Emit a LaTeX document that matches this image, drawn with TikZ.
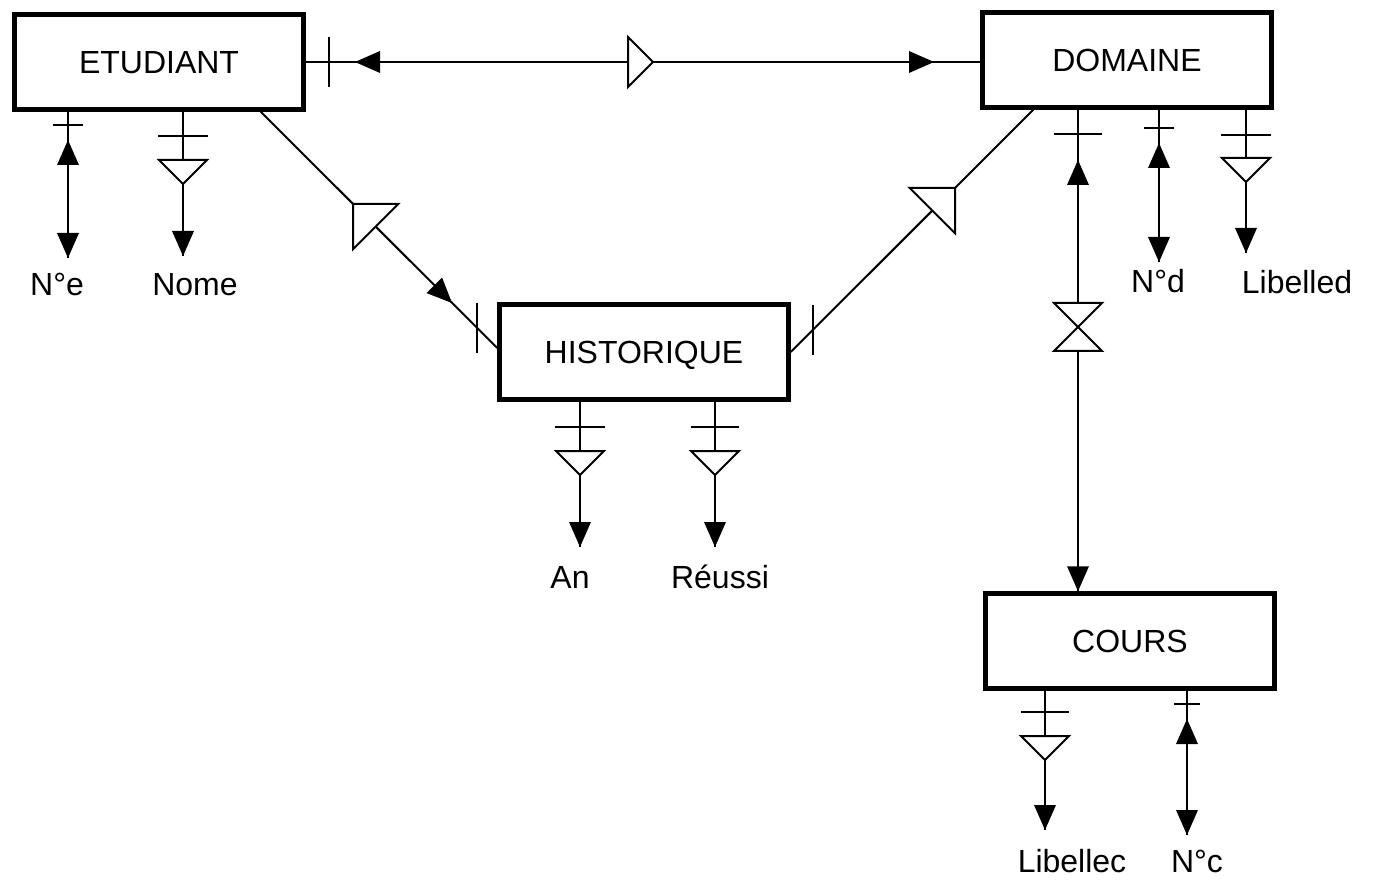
\documentclass[tikz,border=0pt]{standalone}
\usepackage{fontspec}
\setmainfont{Liberation Sans}
\usetikzlibrary{calc}
\begin{document}
\begin{tikzpicture}[x=1pt,y=-1pt,
  entity/.style={draw, line width=4.5pt, minimum width=289pt, minimum height=95pt, inner sep=0pt,
    text height=23pt, text depth=0pt, font=\fontsize{32}{36}\selectfont},
  attr/.style={inner sep=0pt, text height=23pt, text depth=0pt, font=\fontsize{32}{36}\selectfont},
  conn/.style={line width=2pt},
  pics/otri/.style={code={\draw[conn, fill=white, line join=miter] (0,0) -- (-#1,-#1) -- (#1,-#1) -- cycle;}},
  pics/ahead/.style={code={\fill (0,0) -- (-11,-25) -- (11,-25) -- cycle;}},
  pics/tick/.style={code={\draw[conn] (-#1,0) -- (#1,0);}},
]
\useasboundingbox[fill=white] (0,0) rectangle (1377,885);

% entities
\node[entity] (ETU) at (159,62) {ETUDIANT};
\node[entity] (DOM) at (1127,60) {DOMAINE};
\node[entity] (HIS) at (644,352) {HISTORIQUE};
\node[entity] (COU) at (1130,641) {COURS};

% attribute labels
\node[attr] (Ne)   at (57,284)   {N°e};
\node[attr] (Nome) at (195,284)  {Nome};
\node[attr] (An)   at (570,577)  {An};
\node[attr] (Reu)  at (720,577)  {Réussi};
\node[attr] (Nd)   at (1158,281) {N°d};
\node[attr] (Lbd)  at (1297,282) {Libelled};
\node[attr] (Lbc)  at (1072,861) {Libellec};
\node[attr] (Nc)   at (1197,861) {N°c};

% arrow tip coordinates
\coordinate (NeT)   at (68,258);
\coordinate (NomeT) at (183,256);
\coordinate (AnT)   at (580,547);
\coordinate (ReuT)  at (715,547);
\coordinate (NdT)   at (1159,262);
\coordinate (LbdT)  at (1246,253);
\coordinate (LbcT)  at (1045,830);
\coordinate (NcT)   at (1187,835);
\coordinate (DC)    at (1078,0);

% connectors
\draw[conn] (ETU.east) -- (ETU.east -| DOM.west);
\draw[conn] ($(ETU.south east)+(-45,0)$) -- ($(HIS.west)+(0,-4)$);
\draw[conn] ($(DOM.south west)+(53,0)$) -- (HIS.east);
\draw[conn] (DOM.south -| DC) -- (COU.north -| DC);
\draw[conn] (ETU.south -| NeT) -- (NeT);
\draw[conn] (ETU.south -| NomeT) -- (NomeT);
\draw[conn] (HIS.south -| AnT) -- (AnT);
\draw[conn] (HIS.south -| ReuT) -- (ReuT);
\draw[conn] (DOM.south -| NdT) -- (NdT);
\draw[conn] (DOM.south -| LbdT) -- (LbdT);
\draw[conn] (COU.south -| LbcT) -- (LbcT);
\draw[conn] (COU.south -| NcT) -- (NcT);

% top connector markers
\pic[rotate=90] at (329,62) {tick=25};
\pic[rotate=-90] at (355,62) {ahead};
\pic[rotate=90] at (653,62) {otri=25};
\pic[rotate=90] at (934,62) {ahead};

% left diagonal markers
\pic[rotate=225] at (353,204) {otri=32};
\pic[rotate=45] at (452,303) {ahead};
\pic[rotate=90] at (477,328) {tick=25};

% right diagonal markers
\pic[rotate=135] at (955,188) {otri=32};
\pic[rotate=90] at (813,330) {tick=25};

% DOMAINE -> COURS
\pic at (1078,134) {tick=24};
\pic[rotate=180] at (1078,160) {ahead};
\pic at (1078,327) {otri=24};
\pic[rotate=180] at (1078,327) {otri=24};
\pic at (COU.north -| DC) {ahead};

% ETUDIANT attributes
\pic at (68,125) {tick=15};
\pic[rotate=180] at (68,140) {ahead};
\pic at (NeT) {ahead};
\pic at (183,136) {tick=25};
\pic at (183,184) {otri=24};
\pic at (NomeT) {ahead};

% HISTORIQUE attributes
\pic at (580,427) {tick=25};
\pic at (580,475) {otri=24};
\pic at (AnT) {ahead};
\pic at (715,427) {tick=24};
\pic at (715,475) {otri=24};
\pic at (ReuT) {ahead};

% DOMAINE attributes
\pic at (1159,128) {tick=15};
\pic[rotate=180] at (1159,143) {ahead};
\pic at (NdT) {ahead};
\pic at (1246,135) {tick=25};
\pic at (1246,182) {otri=24};
\pic at (LbdT) {ahead};

% COURS attributes
\pic at (1045,712) {tick=24};
\pic at (1045,760) {otri=24};
\pic at (LbcT) {ahead};
\pic at (1187,704) {tick=13};
\pic[rotate=180] at (1187,719) {ahead};
\pic at (NcT) {ahead};
\end{tikzpicture}
\end{document}
